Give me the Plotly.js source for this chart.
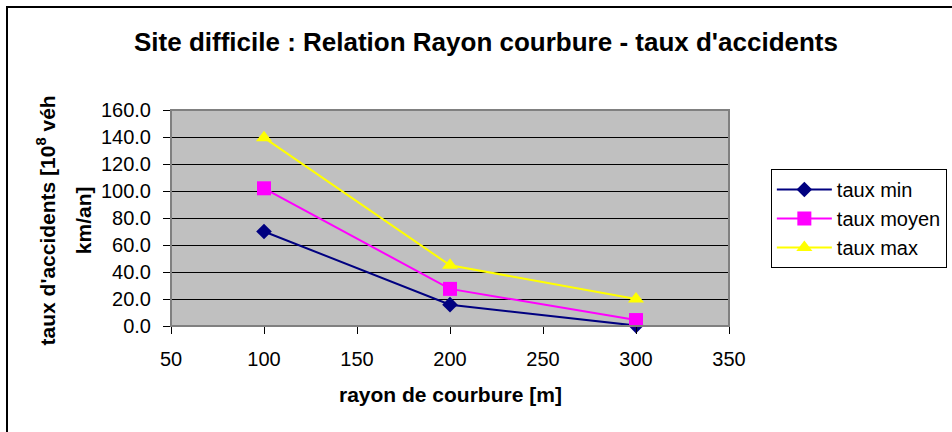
<!DOCTYPE html>
<html>
<head>
<meta charset="utf-8">
<script src="https://cdn.plot.ly/plotly-3.0.1.min.js"></script>
<style>html,body{margin:0;padding:0;background:#fff;}#chart{width:952px;height:432px;}</style>
</head>
<body>
<div id="chart"></div>
<script>
var rayon = [100, 200, 300];
var tauxMin = [70.0, 15.8, 0.3];
var tauxMoyen = [102.0, 27.5, 4.4];
var tauxMax = [139.5, 45.0, 20.0];
var seriesNames = ['taux min', 'taux moyen', 'taux max'];
var xTicks = [50, 100, 150, 200, 250, 300, 350];
var yTicks = [0, 20, 40, 60, 80, 100, 120, 140, 160];

var FONT = 'Liberation Sans, Arial, sans-serif';

function tr(y, name, color, symbol, size, grp) {
  return {
    x: rayon, y: y, name: name, type: 'scatter', mode: 'lines+markers',
    line: {color: color, width: 2},
    marker: {color: color, symbol: symbol, size: size, line: {width: 0}},
    cliponaxis: false, legendgroup: grp
  };
}

var data = [
  tr(tauxMin, seriesNames[0], '#000080', 'diamond', 12, 'a'),
  tr(tauxMoyen, seriesNames[1], '#FF00FF', 'square', 14, 'b'),
  tr(tauxMax, seriesNames[2], '#FFFF00', 'triangle-up', 14, 'c')
];

var layout = {
  width: 952, height: 432,
  margin: {l: 171, r: 223, t: 110, b: 106, autoexpand: false},
  paper_bgcolor: '#ffffff',
  plot_bgcolor: '#C0C0C0',
  font: {family: FONT, size: 20, color: '#000'},
  title: {text: '<b>Site difficile : Relation Rayon courbure - taux d\'accidents</b>',
          font: {family: FONT, size: 26, color: '#000'},
          x: 0.5105, xanchor: 'center', y: 0.903, yanchor: 'middle'},
  xaxis: {
    range: [50, 350], tickvals: xTicks, ticktext: xTicks.map(String),
    showgrid: false, zeroline: false,
    showline: true, linecolor: '#000', linewidth: 1,
    ticks: 'outside', ticklen: 7, tickcolor: '#000', tickwidth: 1,
    ticklabelstandoff: 8, automargin: false,
    tickfont: {family: FONT, size: 20}
  },
  yaxis: {
    range: [0, 160], tickvals: yTicks, ticktext: yTicks.map(function(v){return v.toFixed(1);}),
    showgrid: true, gridcolor: '#000', gridwidth: 1, zeroline: false,
    showline: true, linecolor: '#000', linewidth: 1,
    ticks: 'outside', ticklen: 7, tickcolor: '#000', tickwidth: 1,
    ticklabelstandoff: 8, automargin: false,
    tickfont: {family: FONT, size: 20}
  },
  annotations: [
    {xref: 'paper', yref: 'paper', x: -0.2235, y: 0.49, xanchor: 'center', yanchor: 'middle',
     textangle: -90, showarrow: false,
     text: '<b>taux d\'accidents [10<sup>8</sup> véh</b>',
     font: {family: FONT, size: 21, color: '#000'}},
    {xref: 'paper', yref: 'paper', x: -0.1577, y: 0.49, xanchor: 'center', yanchor: 'middle',
     textangle: -90, showarrow: false,
     text: '<b>km/an]</b>',
     font: {family: FONT, size: 21, color: '#000'}},
    {xref: 'paper', yref: 'paper', x: 0.5, y: -0.319, xanchor: 'center', yanchor: 'middle',
     showarrow: false,
     text: '<b>rayon de courbure [m]</b>',
     font: {family: FONT, size: 21, color: '#000'}}
  ],
  shapes: [
    {type: 'rect', xref: 'paper', yref: 'paper', x0: 0, x1: 1, y0: 0, y1: 1,
     line: {color: '#808080', width: 2}, layer: 'above'},
    {type: 'rect', xref: 'paper', yref: 'paper', x0: -0.2939, x1: 1.5, y0: -0.52, y1: 1.4769,
     line: {color: '#000', width: 2}, fillcolor: 'rgba(0,0,0,0)', layer: 'below'}
  ],
  showlegend: true,
  legend: {
    x: 1.075, y: 0.727, xanchor: 'left', yanchor: 'top',
    bgcolor: '#fff', bordercolor: '#000', borderwidth: 1,
    font: {family: FONT, size: 20, color: '#000'},
    itemwidth: 55, tracegroupgap: 8, traceorder: 'normal'
  }
};

Plotly.newPlot('chart', data, layout, {staticPlot: true, displayModeBar: false});
</script>
</body>
</html>
